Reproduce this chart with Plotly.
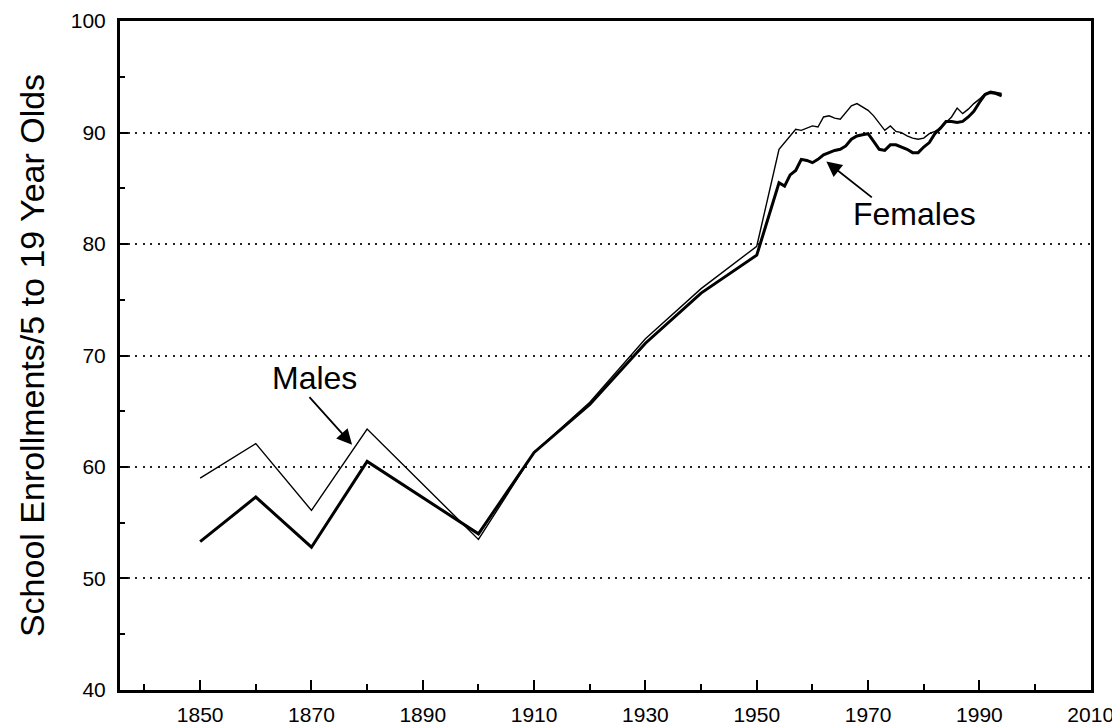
import plotly.graph_objects as go

# Decade observations, then annual observations from 1954
years = [1850, 1860, 1870, 1880, 1900, 1910, 1920, 1930, 1940, 1950,
         1954, 1955, 1956, 1957, 1958, 1959, 1960, 1961, 1962, 1963,
         1964, 1965, 1966, 1967, 1968, 1969, 1970, 1971, 1972, 1973,
         1974, 1975, 1976, 1977, 1978, 1979, 1980, 1981, 1982, 1983,
         1984, 1985, 1986, 1987, 1988, 1989, 1990, 1991, 1992, 1993, 1994]

males = [59.0, 62.1, 56.1, 63.4, 53.5, 61.3, 65.8, 71.5, 76.0, 79.8,
         88.5, 89.1, 89.7, 90.3, 90.2, 90.4, 90.6, 90.5, 91.4, 91.5,
         91.3, 91.2, 91.8, 92.4, 92.6, 92.3, 92.0, 91.5, 90.8, 90.2,
         90.6, 90.1, 90.0, 89.7, 89.5, 89.4, 89.5, 89.9, 90.1, 90.4,
         90.9, 91.4, 92.2, 91.7, 92.1, 92.6, 93.0, 93.5, 93.7, 93.6, 93.5]

females = [53.3, 57.3, 52.8, 60.5, 54.0, 61.3, 65.6, 71.1, 75.6, 79.0,
           85.5, 85.2, 86.2, 86.6, 87.6, 87.5, 87.3, 87.6, 88.0, 88.2,
           88.4, 88.5, 88.8, 89.4, 89.7, 89.8, 89.9, 89.2, 88.5, 88.4,
           88.9, 88.9, 88.7, 88.5, 88.2, 88.2, 88.7, 89.1, 89.9, 90.4,
           91.0, 91.0, 90.9, 91.0, 91.4, 91.9, 92.7, 93.4, 93.6, 93.5, 93.3]

x_ticks = [1850, 1870, 1890, 1910, 1930, 1950, 1970, 1990, 2010]
y_ticks = [40, 50, 60, 70, 80, 90, 100]

FONT = "Liberation Sans, Arial, sans-serif"

fig = go.Figure()
fig.add_trace(go.Scatter(x=years, y=males, mode="lines", name="Males",
                         line=dict(color="black", width=1.4)))
fig.add_trace(go.Scatter(x=years, y=females, mode="lines", name="Females",
                         line=dict(color="black", width=3)))

# Labels
fig.add_annotation(x=1870.6, y=68.0, text="Males", showarrow=False,
                   font=dict(family=FONT, size=32, color="black"))
fig.add_annotation(x=1978.3, y=82.7, text="Females", showarrow=False,
                   font=dict(family=FONT, size=32, color="black"))
# Arrows
fig.add_annotation(x=1877.3, y=62.0, text="", showarrow=True, ax=-44, ay=-49,
                   arrowhead=2, arrowsize=1.7, arrowwidth=1.8, arrowcolor="black")
fig.add_annotation(x=1962.5, y=87.4, text="", showarrow=True, ax=47, ay=37,
                   arrowhead=2, arrowsize=1.7, arrowwidth=1.8, arrowcolor="black")

fig.update_layout(
    width=1120, height=728,
    margin=dict(l=112, r=37, t=13, b=46, autoexpand=False),
    paper_bgcolor="white", plot_bgcolor="white",
    showlegend=False,
    font=dict(family=FONT, size=21, color="black"),
)
fig.update_xaxes(
    automargin=False,
    range=[1835.6, 2010.05],
    tickmode="array", tickvals=x_ticks, ticktext=[str(v) for v in x_ticks],
    ticks="inside", ticklen=10, tickwidth=1.5, tickcolor="black",
    minor=dict(tickmode="linear", tick0=1840, dtick=20, ticks="inside",
               ticklen=6, tickwidth=1.5, tickcolor="black", showgrid=False),
    showline=True, linewidth=3, linecolor="black", mirror=True,
    showgrid=False, zeroline=False,
    tickfont=dict(family=FONT, size=21), ticklabelstandoff=4,
)
fig.update_yaxes(
    automargin=False,
    range=[39.99, 100.01],
    tickmode="array", tickvals=y_ticks, ticktext=[str(v) for v in y_ticks],
    ticks="inside", ticklen=8, tickwidth=1.5, tickcolor="black",
    minor=dict(tickmode="linear", tick0=45, dtick=10, ticks="inside",
               ticklen=5, tickwidth=1.5, tickcolor="black", showgrid=False),
    showline=True, linewidth=3, linecolor="black", mirror=True,
    showgrid=True, gridcolor="#222222", gridwidth=1.5, griddash="2px,5.5px",
    zeroline=False,
    tickfont=dict(family=FONT, size=21), ticklabelstandoff=7,
    title=dict(text="School Enrollments/5 to 19 Year Olds",
               font=dict(family=FONT, size=34), standoff=16),
)

fig.write_html("out.html")
